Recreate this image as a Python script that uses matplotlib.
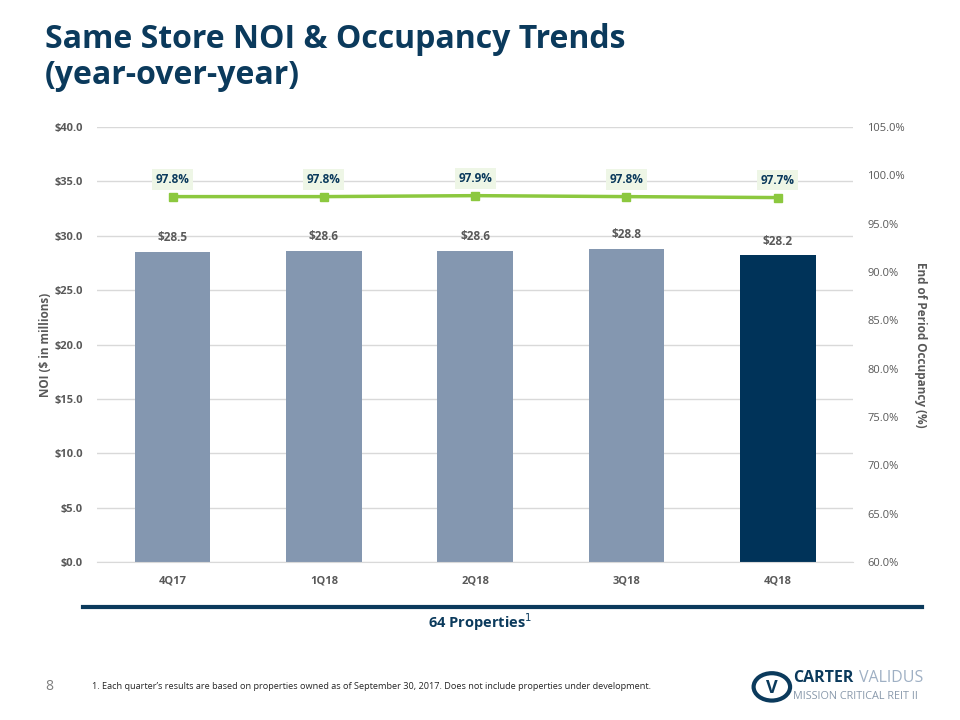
import matplotlib
matplotlib.use('Agg')
import matplotlib.pyplot as plt
from matplotlib.patches import Circle
import numpy as np

plt.rcParams['font.family'] = ['Open Sans', 'DejaVu Sans']

# 資料
quarters = ['4Q17', '1Q18', '2Q18', '3Q18', '4Q18']
noi = [28.5, 28.6, 28.6, 28.8, 28.2]  # 百萬美元
occupancy = [97.8, 97.8, 97.9, 97.8, 97.7]  # %
noi_ticks = [0, 5, 10, 15, 20, 25, 30, 35, 40]
occ_ticks = [60, 65, 70, 75, 80, 85, 90, 95, 100, 105]

navy = '#0b3a5c'
grey_txt = '#595959'

fig = plt.figure(figsize=(9.6, 7.2), dpi=100)
ax = fig.add_axes([0.101, 0.2194, 0.788, 0.6042])
x = np.arange(len(quarters))
bar_colors = ['#8497b0'] * (len(quarters) - 1) + ['#003359']
ax.bar(x, noi, width=0.5, color=bar_colors, zorder=2)
for xi, v in zip(x, noi):
    ax.text(xi, v + 0.7, '$%.1f' % v, ha='center', va='bottom', fontsize=8.5,
            fontweight='bold', color=grey_txt)

ax.set_xlim(-0.5, len(quarters) - 0.5)
ax.set_ylim(0, 40)
ax.set_yticks(noi_ticks)
ax.set_yticklabels(['$%.1f' % t for t in noi_ticks])
ax.set_xticks(x)
ax.set_xticklabels(quarters)
ax.grid(axis='y', color='#d9d9d9', lw=1, zorder=0)
for s in ax.spines.values():
    s.set_visible(False)
ax.spines['bottom'].set_visible(True)
ax.spines['bottom'].set_color('#d9d9d9')
ax.tick_params(length=0, labelsize=8, colors=grey_txt, pad=10)
for lbl in ax.get_xticklabels() + ax.get_yticklabels():
    lbl.set_fontweight('bold')
ax.set_ylabel('NOI ($ in millions)', fontsize=8.5, fontweight='bold', color=grey_txt, labelpad=2)

ax2 = ax.twinx()
ax2.set_ylim(60, 105)
ax2.set_yticks(occ_ticks)
ax2.set_yticklabels(['%.1f%%' % t for t in occ_ticks])
ax2.plot(x, occupancy, color='#8cc83f', lw=2.5, marker='s', ms=6, zorder=3)
for xi, v in zip(x, occupancy):
    ax2.text(xi, v + 1.1, '%.1f%%' % v, ha='center', va='bottom', fontsize=8.5,
             fontweight='bold', color=navy,
             bbox=dict(boxstyle='square,pad=0.3', fc='#eef6e6', ec='none'))
for s in ax2.spines.values():
    s.set_visible(False)
ax2.tick_params(length=0, labelsize=8, colors=grey_txt, pad=10)
ax2.set_ylabel('End of Period Occupancy (%)', fontsize=8.5, fontweight='bold',
               color=grey_txt, rotation=-90, labelpad=16)

# 標題
fig.text(0.047, 0.968, 'Same Store NOI & Occupancy Trends\n(year-over-year)', ha='left', va='top',
         fontsize=23, fontweight='bold', color=navy, linespacing=1.12)

# 下方線與說明
fig.add_artist(plt.Line2D([0.086, 0.96], [0.157, 0.157], color=navy, lw=3))
fig.text(0.5, 0.136, '64 Properties$^{1}$', ha='center', va='center', fontsize=10.5,
         fontweight='bold', color=navy)
fig.text(0.047, 0.046, '8', ha='left', va='center', fontsize=10, color='#7f7f7f')
fig.text(0.096, 0.046, '1. Each quarter\u2019s results are based on properties owned as of September 30, 2017. '
         'Does not include properties under development.', ha='left', va='center', fontsize=6.6, color='#262626')

# 標誌
fig.add_artist(Circle((0.804, 0.046), 0.019, transform=fig.transFigure, fill=False, ec=navy, lw=3))
fig.text(0.804, 0.044, 'V', ha='center', va='center', fontsize=13, fontweight='bold', color=navy)
fig.text(0.826, 0.058, 'CARTER', ha='left', va='center', fontsize=11.5, fontweight='bold', color=navy)
fig.text(0.895, 0.058, 'VALIDUS', ha='left', va='center', fontsize=11.5, color='#9fb0c4')
fig.text(0.826, 0.033, 'MISSION CRITICAL REIT II', ha='left', va='center', fontsize=7.8, color='#8a9aac')

fig.savefig('out.png', dpi=100)
